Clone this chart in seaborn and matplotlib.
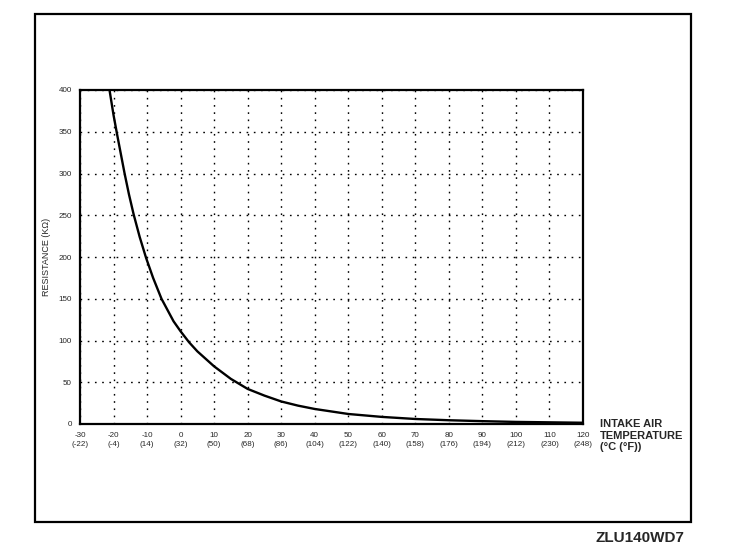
import numpy as np
import pandas as pd
import matplotlib
matplotlib.use("Agg")
import matplotlib.pyplot as plt
import seaborn as sns
from matplotlib.patches import Rectangle

# data
temp_c = [-21.2, -20, -18.9, -17.8, -16.7, -15.4, -14, -12.2, -10.3, -8.2, -5.7, -2.1, 0, 2.5,
          5, 10, 15, 20, 25, 30, 35, 40, 50, 60, 70, 80, 90, 100, 110, 120]
resistance = [400, 370, 346, 323, 300, 275, 251, 224, 199, 175, 150, 123, 111, 98,
              87, 69, 54, 42, 34, 27, 22, 18, 12, 8.5, 6, 4.5, 3.4, 2.5, 2, 1.5]

tick_c = [-30, -20, -10, 0, 10, 20, 30, 40, 50, 60, 70, 80, 90, 100, 110, 120]
tick_f = [-22, -4, 14, 32, 50, 68, 86, 104, 122, 140, 158, 176, 194, 212, 230, 248]
tick_res = [0, 50, 100, 150, 200, 250, 300, 350, 400]

df = pd.DataFrame({"temp": temp_c, "res": resistance})

sns.set_style("white")
plt.rcParams["font.family"] = ["Liberation Sans", "DejaVu Sans"]

fig = plt.figure(figsize=(7.36, 5.54), dpi=100)
ax = fig.add_axes([80 / 736, 1 - 424 / 554, 503 / 736, 334 / 554])

# outer frame of the drawing
fig.patches.append(Rectangle((35 / 736, 1 - 522 / 554), 656 / 736, 508 / 554,
                             transform=fig.transFigure, fill=False,
                             edgecolor="black", linewidth=1.6))

sns.lineplot(data=df, x="temp", y="res", color="black", linewidth=1.7, ax=ax)

ax.set_xlim(-30, 120)
ax.set_ylim(0, 400)
ax.set_xticks(tick_c)
ax.set_xticklabels([f"{c}\n({f})" for c, f in zip(tick_c, tick_f)],
                   fontsize=5.8, linespacing=1.3)
ax.set_yticks(tick_res)
ax.set_yticklabels([str(v) for v in tick_res], fontsize=5.8)
ax.tick_params(axis="both", length=0, pad=6)

ax.grid(True, linestyle=(0, (1.2, 4)), color="black", linewidth=1.0)
for s in ax.spines.values():
    s.set_color("black")
    s.set_linewidth(1.6)

ax.set_xlabel("")
ax.set_ylabel("RESISTANCE (K\u03a9)", fontsize=6.5, labelpad=5)

fig.text(600 / 736, 1 - 419 / 554, "INTAKE AIR\nTEMPERATURE\n(\u00b0C (\u00b0F))",
         fontsize=8, fontweight="bold", ha="left", va="top", linespacing=1.2)
fig.text(684 / 736, 1 - 538 / 554, "ZLU140WD7", fontsize=11, fontweight="bold",
         ha="right", va="center")

fig.savefig("out.png", dpi=100)
